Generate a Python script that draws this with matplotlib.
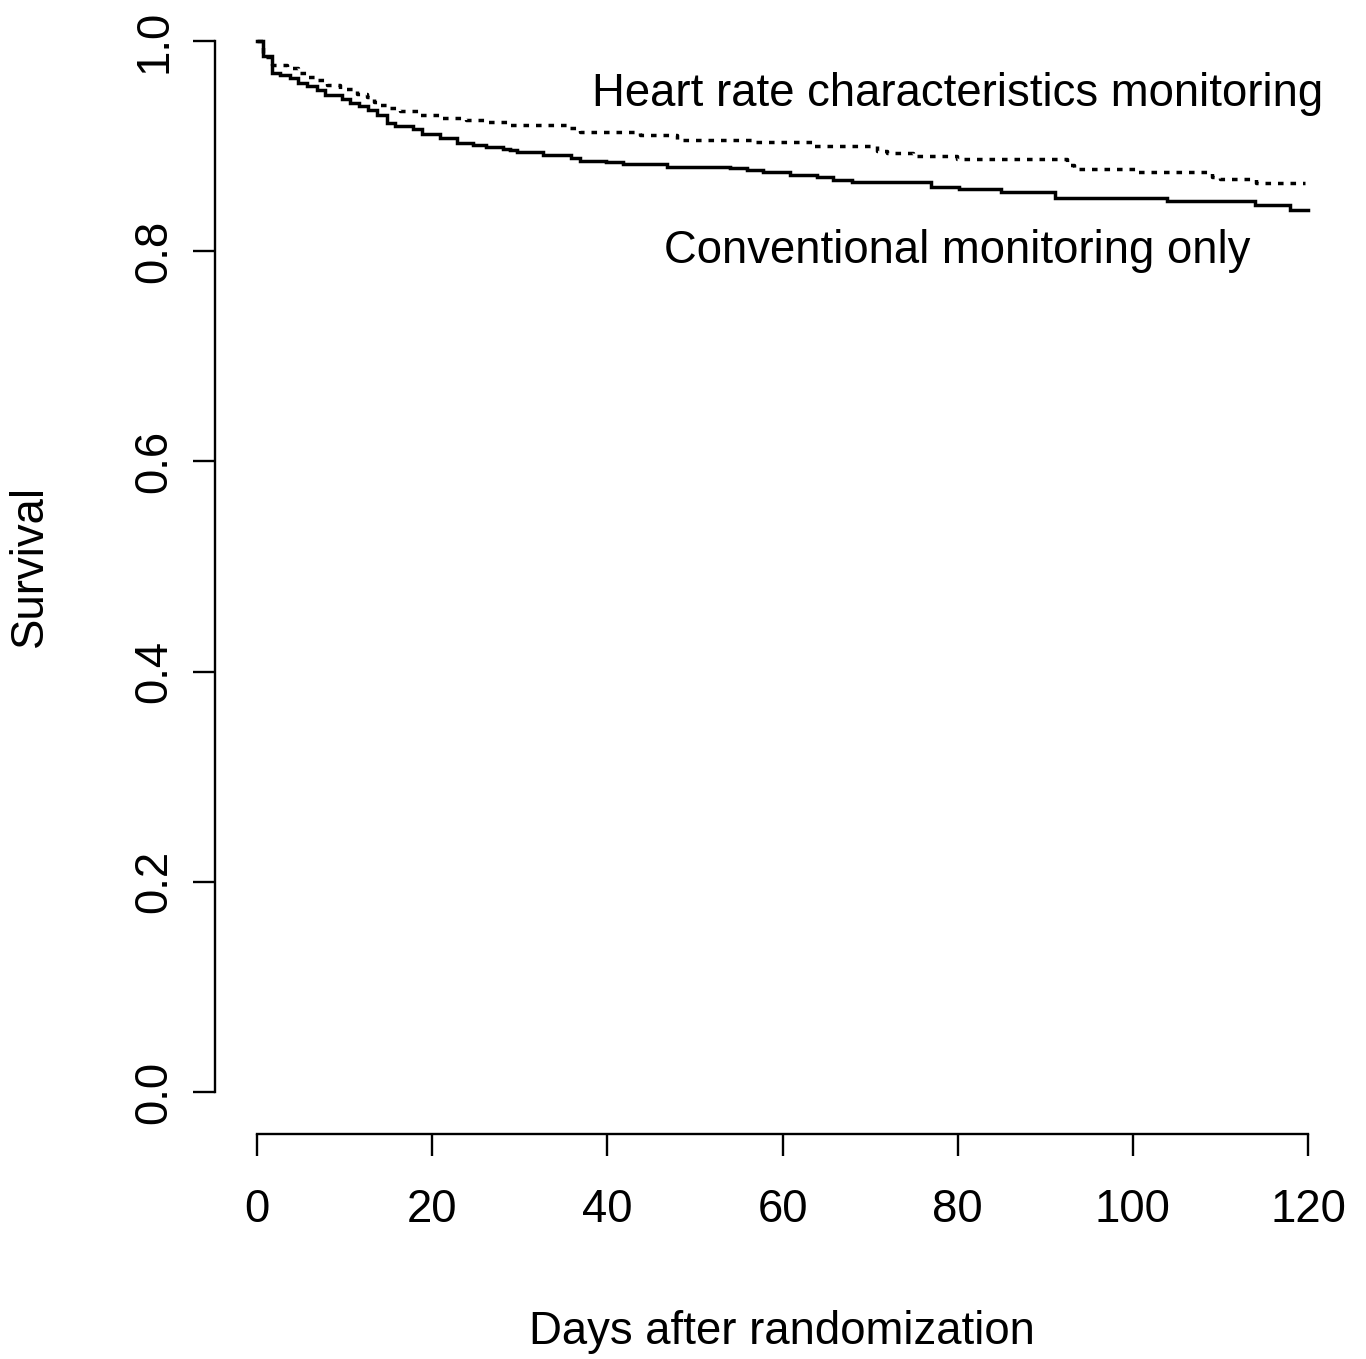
import matplotlib
matplotlib.use("Agg")
import matplotlib.pyplot as plt

plt.rcParams['font.family'] = ['Liberation Sans', 'DejaVu Sans']

# Conventional monitoring only (solid)
times_conv = [0, 0.7, 1.75, 2.6, 3.8, 4.7, 5.7, 6.8, 7.8, 9.7, 10.6, 11.6, 12.7, 13.7,
              14.8, 15.8, 17.8, 18.8, 20.9, 22.8, 24.7, 26.2, 28.1, 28.9, 29.7, 32.7,
              35.9, 36.9, 39.9, 41.8, 46.8, 54.0, 55.9, 57.8, 60.9, 63.9, 65.8, 67.9,
              77.0, 80.1, 85.0, 91.1, 103.9, 114.0, 117.9, 120]
surv_conv = [1.0, 0.986, 0.970, 0.968, 0.965, 0.960, 0.957, 0.953, 0.949, 0.945, 0.941,
             0.938, 0.934, 0.930, 0.922, 0.919, 0.916, 0.912, 0.908, 0.903, 0.901, 0.899,
             0.897, 0.896, 0.894, 0.8915, 0.889, 0.886, 0.8846, 0.8827, 0.880, 0.879,
             0.877, 0.875, 0.873, 0.871, 0.868, 0.8655, 0.8614, 0.859, 0.856, 0.851,
             0.848, 0.844, 0.8395, 0.8395]

# Heart rate characteristics monitoring (dotted)
times_hrc = [0, 0.7, 1.75, 3.4, 4.7, 5.7, 6.8, 8.0, 9.5, 11.4, 12.5, 13.3, 13.9, 14.8,
             16.3, 18.6, 20.9, 23.9, 26.2, 28.5, 35.7, 36.9, 43.7, 47.9, 56.7, 63.5,
             70.8, 71.9, 74.9, 79.9, 92.5, 93.3, 100.4, 109.0, 110.0, 114.1, 119.7]
surv_hrc = [1.0, 0.985, 0.977, 0.974, 0.970, 0.966, 0.963, 0.958, 0.954, 0.950, 0.947,
            0.942, 0.939, 0.936, 0.933, 0.9296, 0.9265, 0.9248, 0.9232, 0.920, 0.917,
            0.9137, 0.9106, 0.906, 0.9036, 0.900, 0.8956, 0.8937, 0.8906, 0.8874,
            0.882, 0.878, 0.875, 0.871, 0.8684, 0.8646, 0.8646]

x_ticks = [0, 20, 40, 60, 80, 100, 120]
y_ticks = [0.0, 0.2, 0.4, 0.6, 0.8, 1.0]
y_ticklabels = ["0.0", "0.2", "0.4", "0.6", "0.8", "1.0"]

FS = 32.8
W, H = 1366, 1359
fig = plt.figure(figsize=(W / 100, H / 100), dpi=100)
ax = fig.add_axes([215 / W, (H - 1134) / H, 1135 / W, 1135 / H])

ax.step(times_conv, surv_conv, where='post', color='black', lw=2.5, solid_joinstyle='miter')
ax.step(times_hrc, surv_hrc, where='post', color='black', lw=2.5,
        linestyle=(0, (1.6, 2.0)))

ax.set_xlim(-4.8, 124.8)
ax.set_ylim(-0.04, 1.04)

for s in ['top', 'right']:
    ax.spines[s].set_visible(False)
ax.spines['left'].set_bounds(0, 1)
ax.spines['bottom'].set_bounds(0, 120)
for s in ['left', 'bottom']:
    ax.spines[s].set_linewidth(1.7)

ax.set_xticks(x_ticks)
ax.set_xticklabels([str(v) for v in x_ticks])
ax.set_yticks(y_ticks)
ax.set_yticklabels(y_ticklabels, rotation=90, va='center')
ax.tick_params(axis='both', direction='out', length=16, width=1.7, labelsize=FS)
ax.tick_params(axis='x', pad=23)
ax.tick_params(axis='y', pad=12)

ax.text(80, 0.938, "Heart rate characteristics monitoring", ha='center', va='baseline', fontsize=FS)
ax.text(80, 0.789, "Conventional monitoring only", ha='center', va='baseline', fontsize=FS)

fig.text(782 / W, 1 - 1332 / H, "Days after randomization", ha='center', va='center', fontsize=FS)
fig.text(30 / W, 1 - 566 / H, "Survival", ha='center', va='center', rotation=90, fontsize=FS)

fig.savefig("out.png", dpi=100, facecolor='white')
